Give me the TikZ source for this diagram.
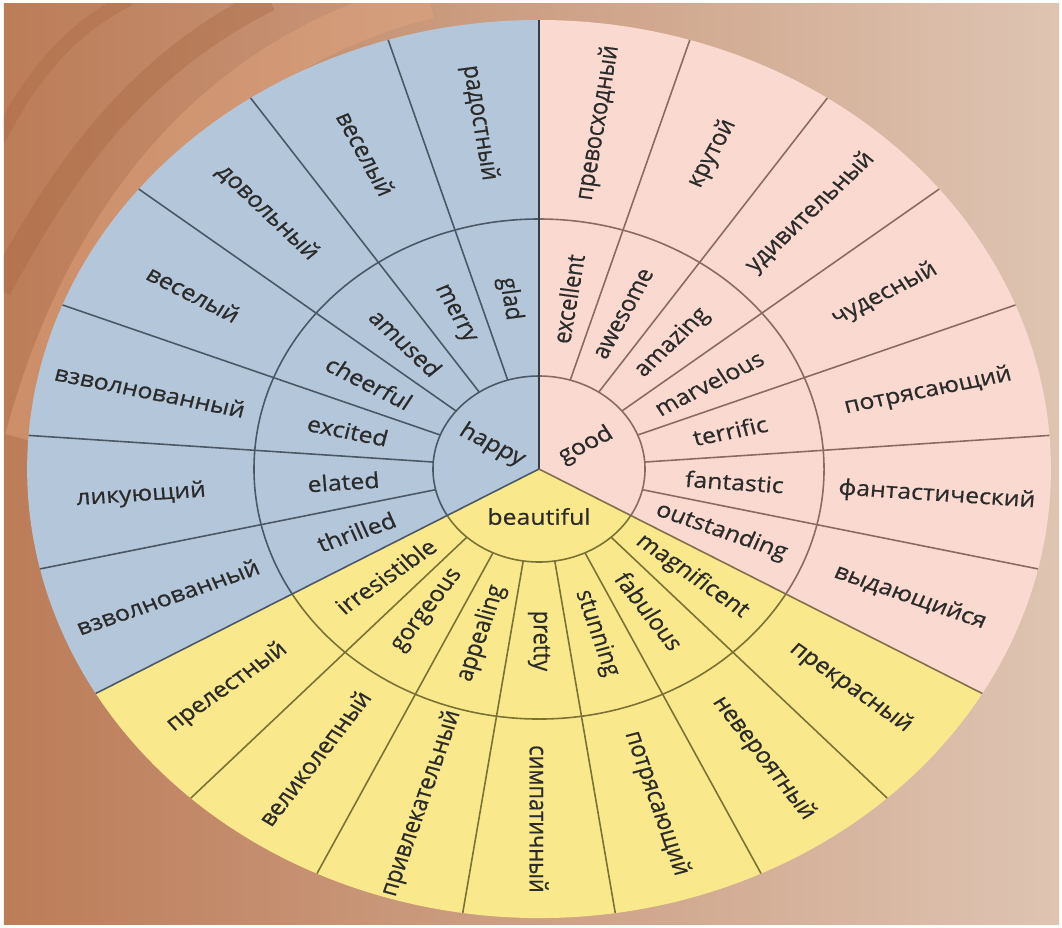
\documentclass[tikz,border=0pt]{standalone}
\usepackage{fontspec}
\setmainfont{Open Sans}
\newfontfamily\wheelfont{Open Sans}[FakeBold=0.6]
\definecolor{hapfill}{HTML}{B4C6DA}
\definecolor{hapline}{HTML}{4A5866}
\definecolor{goodfill}{HTML}{FADAD0}
\definecolor{goodline}{HTML}{8A6B62}
\definecolor{beaufill}{HTML}{FAE88C}
\definecolor{beauline}{HTML}{7A7234}
\definecolor{wordink}{HTML}{2B2B2B}
\definecolor{wooddark}{HTML}{BC7C58}
\definecolor{woodmid}{HTML}{CE9C80}
\definecolor{woodlight}{HTML}{DEC4B2}
\definecolor{woodgrain}{HTML}{A5643E}
\definecolor{woodpeach}{HTML}{E2A57E}

\begin{document}
\begin{tikzpicture}[
    word/.style={font=\wheelfont\fontsize{12.4}{14}\selectfont, text=wordink, inner sep=0pt, transform shape},
    ring/.style={line width=0.9pt}
  ]
  % white frame and wood background
  \useasboundingbox (-10.78,-9.18) rectangle (10.46,9.38);
  \fill[white] (-10.78,-9.18) rectangle (10.46,9.38);
  \begin{scope}
    \clip (-10.70,-9.10) rectangle (10.40,9.30);
    \shade[left color=wooddark, middle color=woodmid, right color=woodlight] (-10.70,-9.10) rectangle (10.40,9.30);
    \draw[line width=22pt, woodpeach, opacity=.45] (-10.3,0.6) .. controls (-9,5.4) and (-6.2,8.4) .. (-2.2,9.4);
    \draw[line width=14pt, woodgrain, opacity=.35] (-10.8,3.6) .. controls (-9.6,5.8) and (-8.2,8.0) .. (-5.4,9.4);
    \draw[line width=8pt, woodgrain, opacity=.3] (-10.8,6.6) .. controls (-10.2,7.8) and (-9.4,8.8) .. (-8.2,9.4);
  \end{scope}

  \begin{scope}[xscale=1.14]
    % sectors
    \fill[hapfill] (0,0) -- (90:8.98) arc[start angle=90, end angle=210, radius=8.98] -- cycle;
    \fill[goodfill] (0,0) -- (-30:8.98) arc[start angle=-30, end angle=90, radius=8.98] -- cycle;
    \fill[beaufill] (0,0) -- (210:8.98) arc[start angle=210, end angle=330, radius=8.98] -- cycle;

    % rings
    \draw[ring, hapline] (90:1.86) arc[start angle=90, end angle=210, radius=1.86]
      (90:5) arc[start angle=90, end angle=210, radius=5];
    \draw[ring, goodline] (-30:1.86) arc[start angle=-30, end angle=90, radius=1.86]
      (-30:5) arc[start angle=-30, end angle=90, radius=5];
    \draw[ring, beauline] (210:1.86) arc[start angle=210, end angle=330, radius=1.86]
      (210:5) arc[start angle=210, end angle=330, radius=5];

    % dividers
    \draw[ring, hapline] (107.14:1.86) -- (107.14:8.98) (124.29:1.86) -- (124.29:8.98)
      (141.43:1.86) -- (141.43:8.98) (158.57:1.86) -- (158.57:8.98)
      (175.71:1.86) -- (175.71:8.98) (192.86:1.86) -- (192.86:8.98);
    \draw[ring, goodline] (72.86:1.86) -- (72.86:8.98) (55.71:1.86) -- (55.71:8.98)
      (38.57:1.86) -- (38.57:8.98) (21.43:1.86) -- (21.43:8.98)
      (4.29:1.86) -- (4.29:8.98) (-12.86:1.86) -- (-12.86:8.98);
    \draw[ring, beauline] (227.14:1.86) -- (227.14:8.98) (244.29:1.86) -- (244.29:8.98)
      (261.43:1.86) -- (261.43:8.98) (278.57:1.86) -- (278.57:8.98)
      (295.71:1.86) -- (295.71:8.98) (312.86:1.86) -- (312.86:8.98);

    % sector borders
    \draw[ring, hapline!70!black] (0,0) -- (90:8.98);
    \draw[ring, hapline] (0,0) -- (210:8.98);
    \draw[ring, goodline!50!beauline] (0,0) -- (330:8.98);

    % centre words
    \node[word, rotate=-30] (happy) at (150:0.95) {happy};
    \node[word, rotate=30] (good) at (30:0.95) {good};
    \node[word] (beautiful) at (270:0.95) {beautiful};

    % happy
    \node[word, rotate=-81.43] (glad) at (98.57:3.44) {glad};
    \node[word, rotate=-64.29] (merry) at (115.71:3.44) {merry};
    \node[word, rotate=-47.14] (amused) at (132.86:3.44) {amused};
    \node[word, rotate=-30] (cheerful) at (150:3.44) {cheerful};
    \node[word, rotate=-12.86] (excited) at (167.14:3.44) {excited};
    \node[word, rotate=4.29] (elated) at (184.29:3.44) {elated};
    \node[word, rotate=21.43] (thrilled) at (201.43:3.44) {thrilled};
    \node[word, rotate=-81.43] (radostny) at (98.57:7) {радостный};
    \node[word, rotate=-64.29] (vesely) at (115.71:7) {веселый};
    \node[word, rotate=-47.14] (dovolny) at (132.86:7) {довольный};
    \node[word, rotate=-30] (vesely2) at (150:7) {веселый};
    \node[word, rotate=-12.86] (vzvolnovanny) at (167.14:7) {взволнованный};
    \node[word, rotate=4.29] (likuyushchy) at (184.29:7) {ликующий};
    \node[word, rotate=21.43] (vzvolnovanny2) at (201.43:7) {взволнованный};

    % good
    \node[word, rotate=81.43] (excellent) at (81.43:3.44) {excellent};
    \node[word, rotate=64.29] (awesome) at (64.29:3.44) {awesome};
    \node[word, rotate=47.14] (amazing) at (47.14:3.44) {amazing};
    \node[word, rotate=30] (marvelous) at (30:3.44) {marvelous};
    \node[word, rotate=12.86] (terrific) at (12.86:3.44) {terrific};
    \node[word, rotate=-4.29] (fantastic) at (-4.29:3.44) {fantastic};
    \node[word, rotate=-21.43] (outstanding) at (-21.43:3.44) {outstanding};
    \node[word, rotate=81.43] (prevoskhodny) at (81.43:7) {превосходный};
    \node[word, rotate=64.29] (krutoy) at (64.29:7) {крутой};
    \node[word, rotate=47.14] (udivitelny) at (47.14:7) {удивительный};
    \node[word, rotate=30] (chudesny) at (30:7) {чудесный};
    \node[word, rotate=12.86] (potryasayushchy) at (12.86:7) {потрясающий};
    \node[word, rotate=-4.29] (fantastichesky) at (-4.29:7) {фантастический};
    \node[word, rotate=-21.43] (vydayushchiysya) at (-21.43:7) {выдающийся};

    % beautiful
    \node[word, rotate=38.57] (irresistible) at (218.57:3.44) {irresistible};
    \node[word, rotate=55.71] (gorgeous) at (235.71:3.44) {gorgeous};
    \node[word, rotate=72.86] (appealing) at (252.86:3.44) {appealing};
    \node[word, rotate=-90] (pretty) at (270:3.44) {pretty};
    \node[word, rotate=-72.86] (stunning) at (287.14:3.44) {stunning};
    \node[word, rotate=-55.71] (fabulous) at (304.29:3.44) {fabulous};
    \node[word, rotate=-38.57] (magnificent) at (321.43:3.44) {magnificent};
    \node[word, rotate=38.57] (prelestny) at (218.57:7) {прелестный};
    \node[word, rotate=55.71] (velikolepny) at (235.71:7) {великолепный};
    \node[word, rotate=72.86] (privlekatelny) at (252.86:7) {привлекательный};
    \node[word, rotate=-90] (simpatichny) at (270:7) {симпатичный};
    \node[word, rotate=-72.86] (potryasayushchy2) at (287.14:7) {потрясающий};
    \node[word, rotate=-55.71] (neveroyatny) at (304.29:7) {невероятный};
    \node[word, rotate=-38.57] (prekrasny) at (321.43:7) {прекрасный};
  \end{scope}
\end{tikzpicture}
\end{document}
